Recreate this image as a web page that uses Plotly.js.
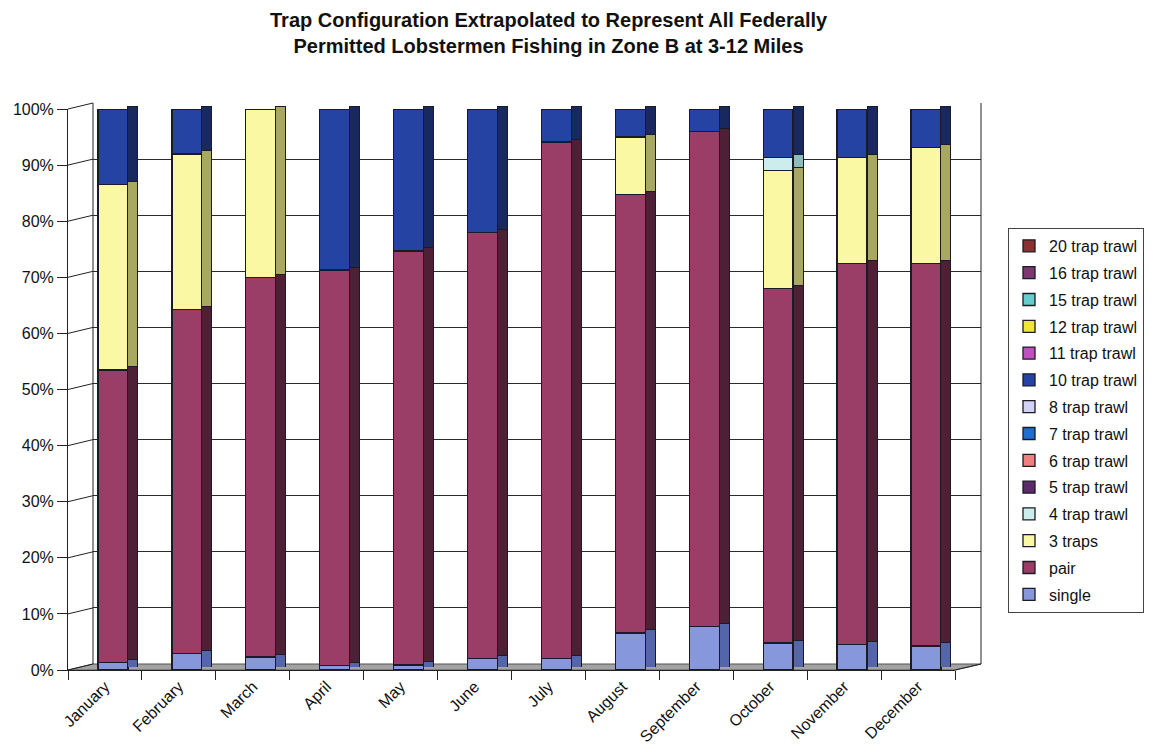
<!DOCTYPE html>
<html>
<head>
<meta charset="utf-8">
<script src="https://cdn.plot.ly/plotly-3.0.1.min.js"></script>
<style>html,body{margin:0;padding:0;background:#fff;}</style>
</head>
<body>
<div id="chart" style="width:1159px;height:756px;"></div>
<script>
// ---- data (percent of fishermen) ----
const months = ["January","February","March","April","May","June","July","August","September","October","November","December"];
const seriesNames = ["single","pair","3 traps","4 trap trawl","5 trap trawl","6 trap trawl","7 trap trawl","8 trap trawl","10 trap trawl","11 trap trawl","12 trap trawl","15 trap trawl","16 trap trawl","20 trap trawl"];
const single      = [1.4, 3.0, 2.3, 0.8, 0.9, 2.1, 2.0, 6.6, 7.7, 4.8, 4.6, 4.3];
const pair        = [52.1, 61.2, 67.7, 70.5, 73.8, 75.9, 92.1, 78.1, 88.3, 63.2, 67.8, 68.1];
const threeTraps  = [33.1, 27.8, 30.0, 0, 0, 0, 0, 10.3, 0, 21.0, 18.9, 20.8];
const trawl4      = [0, 0, 0, 0, 0, 0, 0, 0, 0, 2.3, 0, 0];
const trawl5      = [0,0,0,0,0,0,0,0,0,0,0,0];
const trawl6      = [0,0,0,0,0,0,0,0,0,0,0,0];
const trawl7      = [0,0,0,0,0,0,0,0,0,0,0,0];
const trawl8      = [0,0,0,0,0,0,0,0,0,0,0,0];
const trawl10     = [13.4, 8.0, 0, 28.7, 25.3, 22.0, 5.9, 5.0, 4.0, 8.7, 8.7, 6.8];
const trawl11     = [0,0,0,0,0,0,0,0,0,0,0,0];
const trawl12     = [0,0,0,0,0,0,0,0,0,0,0,0];
const trawl15     = [0,0,0,0,0,0,0,0,0,0,0,0];
const trawl16     = [0,0,0,0,0,0,0,0,0,0,0,0];
const trawl20     = [0,0,0,0,0,0,0,0,0,0,0,0];
const seriesValues = [single, pair, threeTraps, trawl4, trawl5, trawl6, trawl7, trawl8, trawl10, trawl11, trawl12, trawl15, trawl16, trawl20];
const yTicks = [0,10,20,30,40,50,60,70,80,90,100];
const titleText = "Trap Configuration Extrapolated to Represent All Federally<br>Permitted Lobstermen Fishing in Zone B at 3-12 Miles";

// ---- styles ----
const frontColors = ["#8797dc","#9a3e68","#fbf8a4","#cdecec","#5a2a6a","#f08080","#1f6fd0","#d2d2f4","#2443a3","#c050c0","#f0e830","#66cccc","#7a3a70","#8a3030"];
const sideColors  = ["#5565aa","#4e2036","#a9a862","#8cbcbc","#3a1a4a","#b05050","#154a90","#9a9ac0","#17295e","#803080","#a8a020","#409090","#4a2040","#5a1a1a"];
const W = 1159, H = 756;
const px = v => v / W;
const py = v => 1 - v / H;
const FONT = "Liberation Sans, Arial, Helvetica, sans-serif";

const traces = [];
// back wall grid holder
traces.push({type:"scatter", x:[0], y:[0], xaxis:"x", yaxis:"y", mode:"markers",
  marker:{opacity:0}, hoverinfo:"skip", showlegend:false});
// front faces
seriesValues.forEach((vals, i) => {
  traces.push({
    type:"bar", name:seriesNames[i], x:months, y:vals.map(v => v/100),
    xaxis:"x2", yaxis:"y2", offset:-0.095, width:0.405,
    marker:{color:frontColors[i], line:{color:"#1b1b25", width:1.3}},
    legendgroup:"g"+i, legendrank:100 - i, showlegend:true,
    hovertemplate:"%{x}: %{y:.1%}<extra>"+seriesNames[i]+"</extra>"
  });
});
// side faces (depth)
seriesValues.forEach((vals, i) => {
  traces.push({
    type:"bar", name:seriesNames[i], x:months, y:vals.map(v => v/100),
    xaxis:"x3", yaxis:"y3", offset:0.31, width:0.135,
    marker:{color:sideColors[i], line:{color:"#1b1b25", width:1}},
    legendgroup:"g"+i, showlegend:false, hoverinfo:"skip"
  });
});

// shapes: floor, left wall connectors, back frame
const shapes = [];
shapes.push({type:"path", xref:"paper", yref:"paper", layer:"below",
  path:`M ${px(68)} ${py(670)} L ${px(955)} ${py(670)} L ${px(981)} ${py(664)} L ${px(93)} ${py(664)} Z`,
  fillcolor:"#a3a3a3", line:{color:"#555", width:1}});
yTicks.forEach(t => {
  const yf = 670 - t*5.61, yb = 664 - t*5.61;
  shapes.push({type:"line", xref:"paper", yref:"paper", x0:px(68), y0:py(yf), x1:px(93), y1:py(yb),
    line:{color:"#222", width:1}});
});
shapes.push({type:"line", xref:"paper", yref:"paper", x0:px(93), y0:py(103), x1:px(93), y1:py(664), line:{color:"#222", width:1}});
shapes.push({type:"line", xref:"paper", yref:"paper", x0:px(981), y0:py(103), x1:px(981), y1:py(664), line:{color:"#222", width:1}});
shapes.push({type:"line", xref:"paper", yref:"paper", x0:px(955), y0:py(670), x1:px(981), y1:py(664), line:{color:"#222", width:1}});

const layout = {
  width:W, height:H, autosize:false,
  margin:{l:0, r:0, t:0, b:0},
  paper_bgcolor:"#ffffff", plot_bgcolor:"rgba(0,0,0,0)",
  font:{family:FONT, size:16, color:"#111"},
  barmode:"stack", bargap:0,
  annotations:[{text:"<b>"+titleText+"</b>", xref:"paper", yref:"paper", x:px(549), y:py(7),
    xanchor:"center", yanchor:"top", showarrow:false, align:"center",
    font:{family:FONT, size:20, color:"#111"}}],
  xaxis:{domain:[px(93), px(981)], range:[0,1], showgrid:false, showticklabels:false, ticks:"", zeroline:false, showline:false, fixedrange:true},
  yaxis:{domain:[py(664), py(103)], range:[0,1], anchor:"x", dtick:0.1, tick0:0, showgrid:true, gridcolor:"#2a2a2a", gridwidth:1,
    showticklabels:false, ticks:"", zeroline:false, showline:false, fixedrange:true},
  xaxis2:{domain:[px(68), px(955)], range:[-0.5, 11.5], type:"category", anchor:"y2",
    showline:true, linecolor:"#222", linewidth:1, ticks:"outside", tickson:"boundaries", ticklen:9, tickcolor:"#222",
    tickangle:-45, tickfont:{family:FONT, size:16, color:"#111"}, showgrid:false, fixedrange:true},
  yaxis2:{domain:[py(670), py(109)], range:[0,1], anchor:"x2", tickformat:".0%", dtick:0.1, tick0:0,
    showline:true, linecolor:"#222", linewidth:1, ticks:"outside", ticklen:10, tickcolor:"#222",
    tickfont:{family:FONT, size:16, color:"#111"}, showgrid:false, zeroline:false, fixedrange:true},
  xaxis3:{domain:[px(68), px(955)], range:[-0.5, 11.5], type:"category", anchor:"y3", visible:false, fixedrange:true},
  yaxis3:{domain:[py(667), py(106)], range:[0,1], anchor:"x3", visible:false, fixedrange:true},
  legend:{x:px(1008), y:py(228), xanchor:"left", yanchor:"top", xref:"paper", yref:"paper",
    traceorder:"grouped", tracegroupgap:3, bordercolor:"#444", borderwidth:1, bgcolor:"#fff",
    font:{family:FONT, size:16, color:"#111"}, itemwidth:30},
  shapes:shapes,
  showlegend:true
};

Plotly.newPlot("chart", traces, layout, {displayModeBar:false, staticPlot:true});
</script>
</body>
</html>
